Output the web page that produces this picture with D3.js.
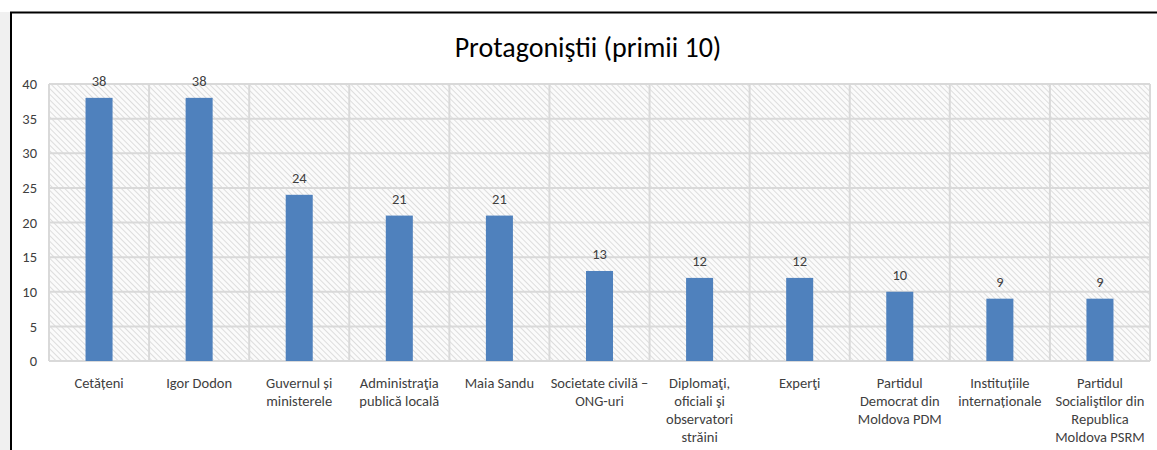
<!DOCTYPE html>
<html>
<head>
<meta charset="utf-8">
<script src="https://cdn.jsdelivr.net/npm/d3@7"></script>
<style>
  body { margin: 0; background: #fff; }
  text { font-family: Calibri, Carlito, "Noto Sans", sans-serif; }
</style>
</head>
<body>
<script>
const categories = [
  ["Cetățeni"],
  ["Igor Dodon"],
  ["Guvernul și", "ministerele"],
  ["Administraţia", "publică locală"],
  ["Maia Sandu"],
  ["Societate civilă –", "ONG-uri"],
  ["Diplomaţi,", "oficiali şi", "observatori", "străini"],
  ["Experţi"],
  ["Partidul", "Democrat din", "Moldova PDM"],
  ["Instituțiile", "internaționale"],
  ["Partidul", "Socialiştilor din", "Republica", "Moldova PSRM"]
];
const values = [38, 38, 24, 21, 21, 13, 12, 12, 10, 9, 9];
const yTicks = [0, 5, 10, 15, 20, 25, 30, 35, 40];
const title = "Protagoniştii (primii 10)";

const w = 1157, h = 450;
const margin = {top: 84, right: 7, bottom: 89, left: 49};

const svg = d3.select("body")
  .append("svg")
  .attr("width", w)
  .attr("height", h);

// hatch pattern for plot background
const defs = svg.append("defs");
const pat = defs.append("pattern")
  .attr("id", "hatch")
  .attr("patternUnits", "userSpaceOnUse")
  .attr("width", 4)
  .attr("height", 4)
  .attr("patternTransform", "rotate(-45)");
pat.append("rect").attr("width", 4).attr("height", 4).attr("fill", "#fbfbfb");
pat.append("line")
  .attr("x1", 0).attr("y1", 0).attr("x2", 0).attr("y2", 4)
  .attr("stroke", "#d6d6d6").attr("stroke-width", 1.6);

// left strip and frame
svg.append("rect").attr("x", 0).attr("y", 12).attr("width", 10).attr("height", h - 12).attr("fill", "#f0f0f0");
svg.append("line").attr("x1", 10).attr("x2", w).attr("y1", 12.5).attr("y2", 12.5).attr("stroke", "#000").attr("stroke-width", 2);
svg.append("line").attr("x1", 11).attr("x2", 11).attr("y1", 12).attr("y2", h).attr("stroke", "#000").attr("stroke-width", 2);

const x = d3.scaleBand()
  .domain(d3.range(categories.length))
  .range([margin.left, w - margin.right])
  .paddingInner(0.73)
  .paddingOuter(0.365);

const y = d3.scaleLinear()
  .domain([0, 40])
  .range([h - margin.bottom, margin.top]);

const step = x.step();
const x0 = margin.left;

// background
svg.append("rect")
  .attr("x", x0)
  .attr("y", y(40))
  .attr("width", step * categories.length)
  .attr("height", y(0) - y(40))
  .attr("fill", "url(#hatch)");

// horizontal grid
svg.append("g")
  .selectAll("line")
  .data(yTicks)
  .enter()
  .append("line")
  .attr("x1", x0)
  .attr("x2", x0 + step * categories.length)
  .attr("y1", d => y(d))
  .attr("y2", d => y(d))
  .attr("stroke", "#d9d9d9")
  .attr("stroke-width", 2);

// vertical grid
svg.append("g")
  .selectAll("line")
  .data(d3.range(categories.length + 1))
  .enter()
  .append("line")
  .attr("x1", i => x0 + i * step)
  .attr("x2", i => x0 + i * step)
  .attr("y1", y(40))
  .attr("y2", y(0))
  .attr("stroke", "#d9d9d9")
  .attr("stroke-width", 2);

// y axis labels
const yAxis = d3.axisLeft(y).tickValues(yTicks).tickSize(0).tickPadding(12);
svg.append("g")
  .attr("transform", "translate(" + x0 + ",0)")
  .call(yAxis)
  .call(g => g.select(".domain").remove())
  .selectAll("text")
  .attr("font-size", 14.5)
  .attr("fill", "#404040")
  .style("font-family", "Calibri, Carlito, 'Noto Sans', sans-serif");

// bars
svg.selectAll(".bar")
  .data(values)
  .enter()
  .append("rect")
  .attr("class", "bar")
  .attr("x", (d, i) => x(i))
  .attr("y", d => y(d))
  .attr("width", x.bandwidth())
  .attr("height", d => y(0) - y(d))
  .attr("fill", "#4f81bd");

// value labels
svg.selectAll(".val")
  .data(values)
  .enter()
  .append("text")
  .attr("class", "val")
  .attr("x", (d, i) => x(i) + x.bandwidth() / 2)
  .attr("y", d => y(d) - 12)
  .attr("text-anchor", "middle")
  .attr("font-size", 14.5)
  .attr("fill", "#404040")
  .text(d => d);

// category labels
const cat = svg.selectAll(".cat")
  .data(categories)
  .enter()
  .append("text")
  .attr("class", "cat")
  .attr("text-anchor", "middle")
  .attr("font-size", 14.5)
  .attr("fill", "#404040");
cat.each(function(lines, i) {
  d3.select(this).selectAll("tspan")
    .data(lines)
    .enter()
    .append("tspan")
    .attr("x", x(i) + x.bandwidth() / 2)
    .attr("y", (l, j) => y(0) + 27 + j * 18)
    .text(l => l);
});

// title
svg.append("text")
  .attr("x", 588)
  .attr("y", 57)
  .attr("text-anchor", "middle")
  .attr("font-size", 28)
  .attr("fill", "#000")
  .text(title);
</script>
</body>
</html>
